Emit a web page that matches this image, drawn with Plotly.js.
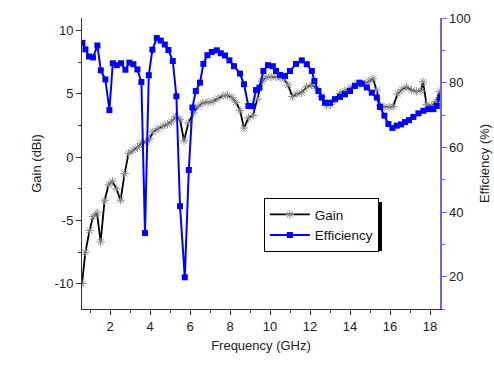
<!DOCTYPE html>
<html><head><meta charset="utf-8">
<script src="https://cdn.plot.ly/plotly-3.0.1.min.js"></script>
<style>html,body{margin:0;padding:0;background:#fff}#chart{width:494px;height:365px}</style>
</head><body><div id="chart"></div>
<script>
const gainFreq = [0.6,0.77,0.98,1.15,1.35,1.53,1.73,1.93,2.12,2.32,2.53,2.73,2.93,3.15,3.37,3.57,3.8,3.98,4.15,4.4,4.65,4.87,5.07,5.27,5.5,5.7,5.92,6.17,6.4,6.65,6.9,7.15,7.4,7.65,7.87,8.1,8.3,8.5,8.7,8.92,9.15,9.37,9.6,9.8,10.05,10.3,10.5,10.7,10.9,11.12,11.35,11.58,11.83,12.08,12.33,12.58,12.83,13.03,13.25,13.5,13.75,14.0,14.25,14.5,14.75,14.95,15.15,15.33,15.5,15.7,15.95,16.15,16.38,16.6,16.83,17.08,17.33,17.55,17.65,17.83,18.08,18.3,18.5];
const gainDBi = [-10.0,-7.5,-5.8,-4.7,-4.4,-6.7,-3.4,-2.2,-1.9,-2.5,-3.4,-1.3,0.3,0.55,0.77,1.1,1.2,1.45,2.0,2.25,2.45,2.6,2.8,3.2,3.0,1.3,2.7,3.5,4.0,4.3,4.35,4.4,4.65,4.85,4.9,4.7,4.35,3.7,2.3,3.1,3.3,4.6,6.0,6.3,6.35,6.35,6.3,6.2,5.7,4.8,5.0,5.1,5.55,5.7,5.45,4.8,4.1,4.15,4.55,5.05,5.25,5.45,5.7,5.75,5.8,6.0,6.2,5.3,4.1,3.95,3.95,4.0,5.0,5.35,5.55,5.3,5.2,5.25,5.95,4.15,4.05,4.4,5.2];
const effFreq = [0.62,0.77,0.95,1.15,1.37,1.54,1.77,1.97,2.14,2.34,2.55,2.77,2.97,3.17,3.37,3.57,3.75,3.94,4.12,4.34,4.54,4.74,4.92,5.14,5.32,5.5,5.74,5.94,6.12,6.29,6.5,6.67,6.87,7.09,7.34,7.54,7.75,7.97,8.2,8.5,8.7,8.92,9.12,9.3,9.47,9.67,9.9,10.14,10.3,10.5,10.75,11.0,11.3,11.59,11.84,12.09,12.22,12.42,12.59,12.75,13.0,13.25,13.5,13.75,14.0,14.25,14.47,14.59,14.84,15.09,15.34,15.5,15.72,15.92,16.12,16.34,16.55,16.75,16.95,17.17,17.42,17.67,17.92,18.17,18.34,18.5];
const effPct = [92.3,90.3,88.1,87.8,91.5,83.8,81.0,71.5,86.0,85.4,86.0,84.0,86.2,85.7,84.1,80.2,33.5,82.3,90.2,93.8,93.0,91.8,90.1,86.7,75.8,41.8,19.8,53.0,72.3,77.4,80.0,85.8,88.5,89.5,90.0,89.1,88.4,86.9,85.1,82.8,79.5,72.8,72.7,77.7,78.5,83.6,85.4,85.1,83.6,82.4,82.1,83.6,85.8,86.9,85.7,83.6,80.5,77.4,75.4,73.8,73.8,74.9,75.6,76.4,77.4,79.0,80.0,79.7,78.5,76.9,75.4,72.5,69.8,67.2,66.0,66.7,67.1,67.8,68.4,69.4,70.5,71.3,71.8,71.8,72.8,75.4];
const gainTickVals = [-10, -5, 0, 5, 10];
const gainTickText = ['-10', '-5', '0', '5', '10'];

const fontFam = 'Liberation Sans, Arial, sans-serif';
const traces = [
  {x: gainFreq, y: gainDBi, name: 'Gain', type: 'scatter', mode: 'lines+markers',
   line: {color: '#000000', width: 1.8},
   marker: {symbol: 'asterisk-open', size: 7, color: '#888888', line: {color: '#888888', width: 1}}},
  {x: effFreq, y: effPct, name: 'Efficiency', type: 'scatter', mode: 'lines+markers', yaxis: 'y2',
   line: {color: '#0000ff', width: 2},
   marker: {symbol: 'square', size: 6, color: '#0000ff'}}
];
const layout = {
  width: 494, height: 365,
  margin: {l: 82, r: 54, t: 18, b: 56},
  paper_bgcolor: '#ffffff', plot_bgcolor: '#ffffff',
  font: {family: fontFam, size: 13, color: '#222'},
  showlegend: true,
  legend: {x: 0.508, y: 0.381, xanchor: 'left', yanchor: 'top', bgcolor: '#ffffff',
    bordercolor: '#000', borderwidth: 1, font: {size: 13.5, family: fontFam, color: '#111'},
    tracegroupgap: 0, itemwidth: 40},
  xaxis: {range: [0.6, 18.5], dtick: 2, tick0: 0, ticks: 'outside', ticklen: 5, tickwidth: 1,
    tickcolor: '#333', showline: true, linecolor: '#333', linewidth: 1, showgrid: false, zeroline: false,
    minor: {dtick: 1, ticks: 'outside', ticklen: 3, tickcolor: '#333', showgrid: false},
    title: {text: 'Frequency (GHz)', font: {size: 13}, standoff: 8}, tickfont: {size: 13}},
  yaxis: {range: [-12, 11], tickmode: 'array', tickvals: gainTickVals, ticktext: gainTickText,
    ticks: 'outside', ticklen: 5, tickwidth: 1,
    tickcolor: '#333', showline: true, linecolor: '#333', linewidth: 1, showgrid: false, zeroline: false,
    minor: {tickmode: 'linear', tick0: 0, dtick: 2.5, ticks: 'outside', ticklen: 3, tickcolor: '#333', showgrid: false},
    title: {text: 'Gain (dBi)', font: {size: 13}, standoff: 10}, tickfont: {size: 13}},
  yaxis2: {range: [10, 100], dtick: 20, tick0: 0, overlaying: 'y', side: 'right', ticks: 'outside',
    ticklen: 5, tickwidth: 1, tickcolor: '#6a6ae0', showline: true, linecolor: '#6a6ae0', linewidth: 1.5,
    showgrid: false, zeroline: false,
    minor: {dtick: 10, ticks: 'outside', ticklen: 3, tickcolor: '#6a6ae0', showgrid: false},
    title: {text: 'Efficiency (%)', font: {size: 13}, standoff: 10}, tickfont: {size: 13}},
  shapes: [
    {type: 'rect', xref: 'paper', yref: 'paper', layer: 'above',
     x0: (268 - 82) / 358, x1: (382 - 82) / 358, y0: (309 - 251) / 291, y1: (309 - 202) / 291,
     fillcolor: '#000', line: {width: 0}}
  ]
};
Plotly.newPlot('chart', traces, layout, {displayModeBar: false, staticPlot: true});
</script></body></html>
